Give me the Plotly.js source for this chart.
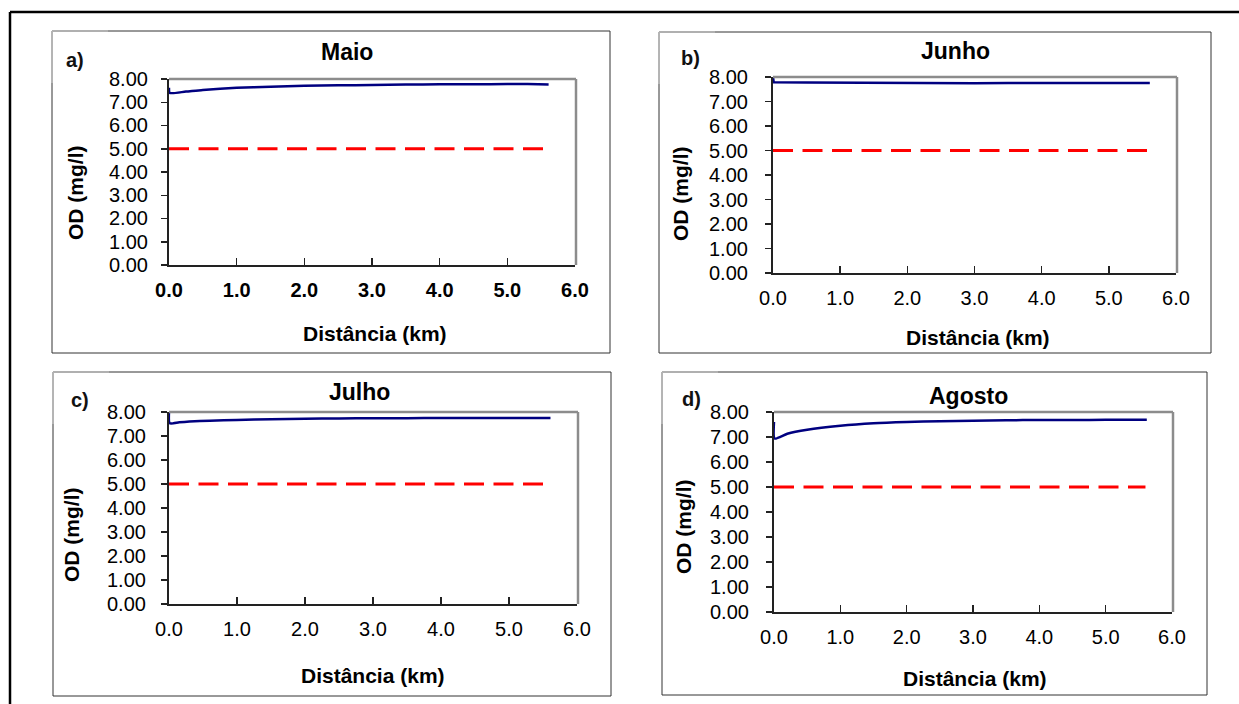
<!DOCTYPE html>
<html>
<head>
<meta charset="utf-8">
<script src="https://cdn.plot.ly/plotly-3.0.1.min.js"></script>
<style>html,body{margin:0;padding:0;background:#fff}#chart{width:1239px;height:704px}</style>
</head>
<body>
<div id="chart"></div>
<script>
// ---- data ----
const months = ["Maio", "Junho", "Julho", "Agosto"];
const panelLetters = ["a)", "b)", "c)", "d)"];

const maioX = [0, 0.01, 0.25, 0.5, 1.0, 1.5, 2.0, 2.5, 3.0, 3.5, 4.0, 4.5, 5.0, 5.3, 5.61];
const maioY = [7.62, 7.40, 7.46, 7.53, 7.62, 7.67, 7.71, 7.73, 7.74, 7.76, 7.77, 7.77, 7.78, 7.78, 7.76];

const junhoX = [0, 0.01, 0.5, 1.0, 1.5, 2.0, 2.5, 2.8, 3.0, 3.5, 4.0, 4.5, 5.0, 5.61];
const junhoY = [8.00, 7.79, 7.78, 7.77, 7.77, 7.77, 7.76, 7.74, 7.75, 7.76, 7.76, 7.76, 7.76, 7.76];

const julhoX = [0, 0.01, 0.15, 0.3, 0.6, 1.0, 1.5, 2.0, 2.5, 3.0, 3.5, 4.0, 4.5, 5.0, 5.61];
const julhoY = [8.00, 7.53, 7.57, 7.60, 7.64, 7.67, 7.70, 7.72, 7.73, 7.74, 7.74, 7.75, 7.75, 7.75, 7.75];

const agostoX = [0, 0.01, 0.2, 0.5, 1.0, 1.5, 2.0, 2.5, 3.0, 3.5, 4.0, 4.5, 5.0, 5.62];
const agostoY = [7.60, 6.94, 7.13, 7.29, 7.45, 7.55, 7.60, 7.63, 7.65, 7.67, 7.68, 7.68, 7.69, 7.69];

const limitX = [0, 5.6];
const limitY = [5.0, 5.0];

const yTickVals = [0, 1, 2, 3, 4, 5, 6, 7, 8];
const yTickText = ["0.00", "1.00", "2.00", "3.00", "4.00", "5.00", "6.00", "7.00", "8.00"];
const xTickVals = [0, 1, 2, 3, 4, 5, 6];
const xTickText = ["0.0", "1.0", "2.0", "3.0", "4.0", "5.0", "6.0"];

const xTitle = "Distância (km)";
const yTitle = "OD (mg/l)";

// ---- layout geometry (pixels) ----
const W = 1239, H = 704;
const px = v => v / W;
const py = v => 1 - v / H;
const FONT = "Liberation Sans, Arial, sans-serif";

const seriesX = [maioX, junhoX, julhoX, agostoX];
const seriesY = [maioY, junhoY, julhoY, agostoY];
const smoothing = [0.6, 0, 0.6, 0.6];

const panels = [
  {plot: [169, 575, 79, 265], labelRight: 150, box: [52, 610, 31, 353], title: [347, 52], letter: [75, 60], ytitle: [75, 193], xtitle: [375, 333], boldX: true},
  {plot: [773, 1176, 77, 273], labelRight: 750, box: [659, 1211, 32, 353], title: [956, 51], letter: [690, 58], ytitle: [680, 194], xtitle: [978, 337], boldX: false},
  {plot: [169, 577, 412, 604], labelRight: 148, box: [53, 611, 372, 696], title: [359, 392], letter: [80, 400], ytitle: [71, 535], xtitle: [373, 675], boldX: false},
  {plot: [774, 1172, 412, 612], labelRight: 751, box: [662, 1207, 372, 695], title: [968, 396], letter: [691, 399], ytitle: [683, 527], xtitle: [975, 678], boldX: false}
];

const traces = [];
const layout = {
  width: W, height: H,
  margin: {l: 0, r: 0, t: 0, b: 0},
  paper_bgcolor: "#fff", plot_bgcolor: "#fff",
  showlegend: false,
  font: {family: FONT, color: "#000"},
  annotations: [], shapes: []
};

// outer frame
layout.shapes.push({type: "line", xref: "paper", yref: "paper", x0: px(10), x1: px(1239), y0: py(12), y1: py(12), line: {color: "#000", width: 2.5}});
layout.shapes.push({type: "line", xref: "paper", yref: "paper", x0: px(10), x1: px(10), y0: py(12), y1: py(704), line: {color: "#000", width: 2.5}});

panels.forEach((p, i) => {
  const n = i + 1;
  const xa = n === 1 ? "x" : "x" + n;
  const ya = n === 1 ? "y" : "y" + n;
  const xk = n === 1 ? "xaxis" : "xaxis" + n;
  const yk = n === 1 ? "yaxis" : "yaxis" + n;
  const [l, r, t, b] = p.plot;

  layout[xk] = {
    domain: [px(l), px(r)], anchor: ya, range: [0, 6],
    tickvals: xTickVals, ticktext: xTickText,
    ticks: "inside", ticklen: 7, tickwidth: 1.5, tickcolor: "#222",
    showline: true, linecolor: "#222", linewidth: 2,
    showgrid: false, zeroline: false, fixedrange: true,
    ticklabelstandoff: 6,
    tickfont: {family: FONT, size: 20, color: "#000", weight: p.boldX ? "bold" : "normal"}
  };
  layout[yk] = {
    domain: [py(b), py(t)], anchor: xa, range: [0, 8],
    tickvals: yTickVals, showticklabels: false,
    ticks: "outside", ticklen: 6, tickwidth: 1.5, tickcolor: "#222",
    showline: true, linecolor: "#222", linewidth: 2,
    showgrid: false, zeroline: false, fixedrange: true
  };

  // y tick labels, placed on the y scale
  yTickVals.forEach((v, k) => {
    layout.annotations.push({xref: "paper", yref: ya, x: px(p.labelRight), y: v, text: yTickText[k], showarrow: false, xanchor: "right", yanchor: "middle", font: {family: FONT, size: 20, color: "#000"}});
  });

  // top and right frame lines (gray)
  layout.shapes.push({type: "line", xref: "paper", yref: "paper", x0: px(l), x1: px(r + 1), y0: py(t), y1: py(t), line: {color: "#8c8c8c", width: 2.5}});
  layout.shapes.push({type: "line", xref: "paper", yref: "paper", x0: px(r + 1), x1: px(r + 1), y0: py(t), y1: py(b), line: {color: "#8c8c8c", width: 2.5}});

  // panel box
  const [bl, br, bt, bb] = p.box;
  layout.shapes.push({type: "rect", xref: "paper", yref: "paper", layer: "below", x0: px(bl), x1: px(br), y0: py(bb), y1: py(bt), line: {color: "#333", width: 1}});
  // light edge of the pasted letter image
  layout.shapes.push({type: "line", xref: "paper", yref: "paper", x0: px(bl), x1: px(bl + 56), y0: py(bt), y1: py(bt), line: {color: "#c8c8c8", width: 1.2}});
  layout.shapes.push({type: "line", xref: "paper", yref: "paper", x0: px(bl), x1: px(bl), y0: py(bt), y1: py(bt + 52), line: {color: "#c8c8c8", width: 1.2}});

  traces.push({
    type: "scatter", mode: "lines", x: limitX, y: limitY, xaxis: xa, yaxis: ya,
    line: {color: "#ff0000", width: 3, dash: "20px,9.5px"}, hoverinfo: "skip"
  });
  traces.push({
    type: "scatter", mode: "lines", x: seriesX[i], y: seriesY[i], xaxis: xa, yaxis: ya,
    line: smoothing[i] > 0 ? {color: "#000080", width: 2.5, shape: "spline", smoothing: smoothing[i]} : {color: "#000080", width: 2.5},
    name: months[i]
  });

  layout.annotations.push({xref: "paper", yref: "paper", x: px(p.title[0]), y: py(p.title[1]), text: months[i], showarrow: false, xanchor: "center", yanchor: "middle", font: {family: FONT, size: 23, weight: "bold", color: "#000"}});
  layout.annotations.push({xref: "paper", yref: "paper", x: px(p.letter[0]), y: py(p.letter[1]), text: panelLetters[i], showarrow: false, xanchor: "center", yanchor: "middle", font: {family: "Liberation Sans Narrow, Liberation Sans, sans-serif", size: 20, weight: "bold", color: "#111"}});
  layout.annotations.push({xref: "paper", yref: "paper", x: px(p.ytitle[0]), y: py(p.ytitle[1]), text: yTitle, textangle: -90, showarrow: false, xanchor: "center", yanchor: "middle", font: {family: FONT, size: 21, weight: "bold", color: "#000"}});
  layout.annotations.push({xref: "paper", yref: "paper", x: px(p.xtitle[0]), y: py(p.xtitle[1]), text: xTitle, showarrow: false, xanchor: "center", yanchor: "middle", font: {family: FONT, size: 21, weight: "bold", color: "#000"}});
});

Plotly.newPlot("chart", traces, layout, {staticPlot: true, displayModeBar: false});
</script>
</body>
</html>
